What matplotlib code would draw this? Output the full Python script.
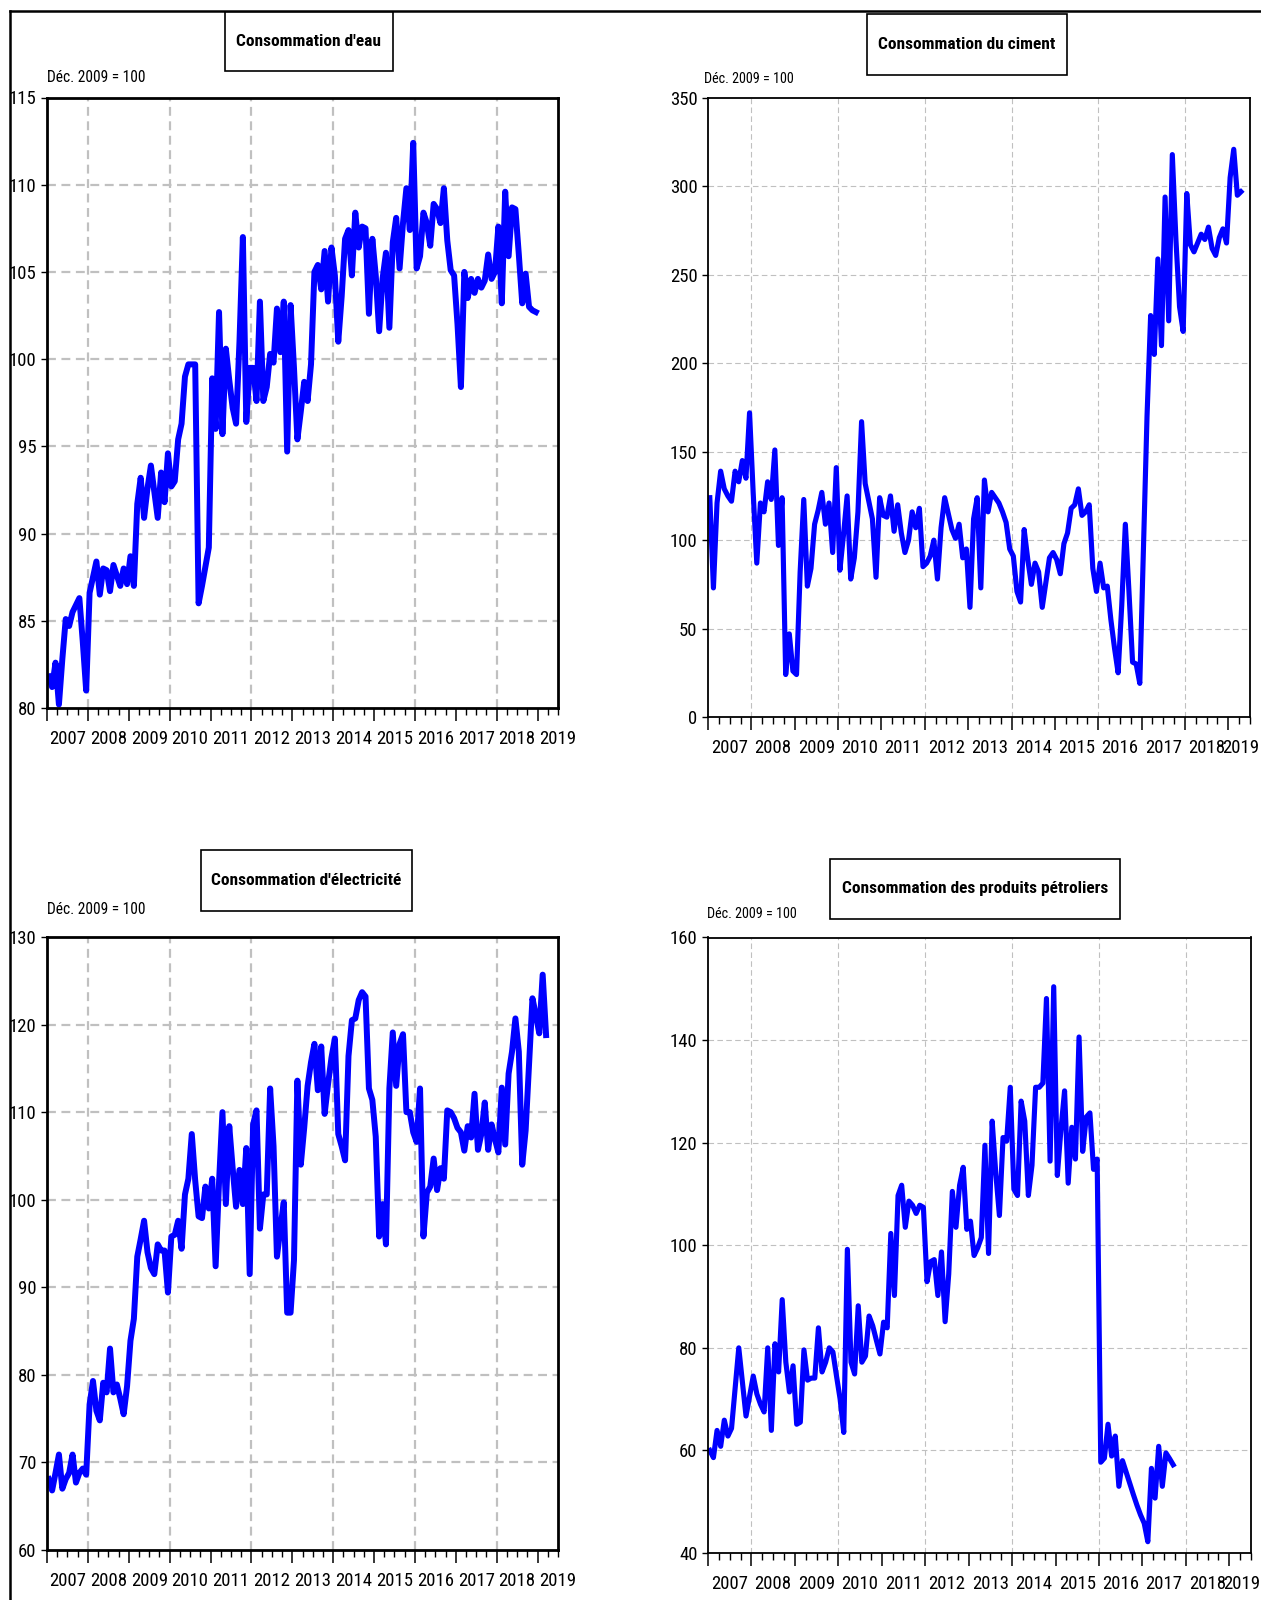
import numpy as np
import matplotlib
matplotlib.use("Agg")
import matplotlib.pyplot as plt
from matplotlib import font_manager
from matplotlib.patches import Rectangle
from matplotlib.lines import Line2D

W, H = 1261, 1600

# ── Monthly indices, Déc. 2009 = 100 (first obs = Jan 2007) ─────────────────
eau = [
    81.8, 81.2, 82.6, 80.2, 82.8, 85.1, 84.7, 85.5, 85.9, 86.3, 83.8, 81.0,
    86.6, 87.5, 88.4, 86.5, 88.0, 87.9, 86.7, 88.2, 87.6, 87.0, 88.0, 87.1,
    88.7, 87.0, 91.7, 93.2, 90.9, 92.6, 93.9, 92.4, 90.9, 93.5, 91.8, 94.6,
    92.7, 93.0, 95.4, 96.3, 99.0, 99.7, 99.7, 99.7, 86.0, 87.0, 88.1, 89.2,
    98.9, 96.0, 102.7, 95.7, 100.6, 98.8, 97.2, 96.3, 101.0, 107.0, 96.4, 99.5,
    99.5, 97.6, 103.3, 97.6, 98.4, 100.3, 99.8, 102.9, 100.4, 103.3, 94.7, 103.1,
    99.5, 95.4, 97.0, 98.7, 97.6, 99.7, 105.0, 105.4, 104.0, 106.2, 103.3, 106.4,
    104.8, 101.0, 103.6, 106.9, 107.4, 104.8, 108.4, 106.4, 107.6, 107.5, 102.6, 106.9,
    104.8, 101.6, 104.6, 106.1, 101.8, 106.7, 108.1, 105.2, 107.8, 109.8, 107.4, 112.4,
    105.2, 105.9, 108.4, 107.8, 106.5, 108.9, 108.6, 107.8, 109.8, 106.8, 105.1, 104.8,
    102.0, 98.4, 105.0, 103.5, 104.6, 103.8, 104.6, 104.1, 104.5, 106.0, 104.6, 105.0,
    107.6, 103.2, 109.6, 105.9, 108.7, 108.6, 106.0, 103.2, 104.9, 103.0, 102.8, 102.7,
]

ciment = [
    124, 73, 121, 139, 129, 125, 122, 139, 133, 145, 135, 172,
    127, 87, 121, 116, 133, 123, 151, 97, 124, 24, 47, 26,
    24, 82, 123, 74, 84, 109, 117, 127, 109, 121, 93, 141,
    83, 103, 125, 78, 90, 116, 167, 132, 122, 112, 79, 124,
    114, 113, 125, 105, 120, 104, 93, 100, 116, 107, 118, 85,
    87, 91, 100, 78, 107, 124, 115, 106, 101, 109, 90, 95,
    62, 112, 124, 73, 134, 116, 127, 124, 121, 116, 110, 95,
    91, 71, 65, 106, 89, 75, 87, 82, 62, 76, 90, 93,
    89, 81, 98, 104, 118, 120, 129, 114, 116, 120, 84, 71,
    87, 73, 74, 55, 39, 25, 63, 109, 71, 31, 30, 19,
    95, 170, 227, 205, 259, 210, 294, 224, 318, 270, 232, 218,
    296, 267, 263, 268, 273, 270, 277, 265, 261, 271, 276, 268,
    305, 321, 295, 297,
]

electricite = [
    68.1, 66.8, 68.8, 70.9, 67.0, 68.1, 68.8, 70.9, 67.7, 68.8, 69.3, 68.6,
    76.6, 79.3, 75.9, 74.8, 79.1, 78.0, 83.0, 78.0, 78.9, 77.3, 75.5, 78.7,
    83.9, 86.4, 93.5, 95.5, 97.6, 94.0, 92.2, 91.5, 94.9, 94.2, 94.2, 89.4,
    95.8, 96.0, 97.6, 94.4, 100.6, 102.4, 107.5, 102.2, 98.1, 97.9, 101.5, 99.0,
    102.4, 92.4, 102.0, 110.0, 99.5, 108.4, 103.6, 99.2, 103.4, 99.5, 105.9, 91.5,
    108.6, 110.2, 96.7, 100.6, 100.6, 112.7, 106.1, 93.5, 96.7, 99.7, 87.1, 87.1,
    93.1, 113.6, 104.0, 108.2, 113.0, 115.7, 117.8, 112.5, 117.5, 109.8, 113.2, 116.2,
    118.4, 107.5, 106.1, 104.5, 116.4, 120.5, 120.7, 122.8, 123.7, 123.2, 112.7, 111.4,
    107.2, 95.8, 99.5, 94.9, 112.7, 119.1, 113.0, 117.8, 118.9, 110.0, 110.0, 107.7,
    106.6, 112.7, 95.8, 100.8, 101.5, 104.7, 101.1, 103.6, 102.4, 110.2, 110.0, 109.3,
    108.2, 107.7, 105.6, 108.4, 107.1, 112.1, 105.7, 107.5, 111.1, 105.7, 108.6, 106.9,
    105.4, 112.8, 106.3, 114.4, 116.9, 120.7, 116.9, 104.0, 107.9, 115.5, 123.0, 121.1,
    119.0, 125.7, 118.8,
]

petrole = [
    60.0, 58.6, 63.9, 60.8, 65.9, 62.8, 64.3, 72.2, 80.0, 73.3, 66.7, 70.6,
    74.5, 71.0, 69.0, 67.5, 80.0, 63.9, 80.8, 75.3, 89.4, 77.2, 71.4, 76.5,
    65.1, 65.5, 79.6, 73.7, 74.1, 74.1, 83.9, 75.3, 77.2, 80.0, 79.2, 74.5,
    70.0, 63.5, 99.2, 77.2, 74.9, 88.2, 77.2, 78.4, 86.2, 84.3, 81.5, 78.8,
    85.0, 83.9, 102.3, 90.2, 109.7, 111.7, 103.5, 108.6, 107.8, 106.2, 107.8, 107.4,
    92.9, 96.8, 97.2, 90.2, 98.7, 85.1, 94.4, 110.5, 103.5, 111.7, 115.2, 103.1,
    104.7, 98.0, 99.5, 101.5, 119.5, 98.4, 124.2, 114.0, 105.8, 121.0, 120.3, 130.8,
    110.9, 109.7, 128.1, 124.2, 109.7, 115.6, 130.8, 130.8, 131.6, 148.1, 116.4, 150.4,
    113.6, 122.6, 130.1, 112.1, 123.0, 116.8, 140.6, 118.3, 125.0, 125.8, 114.8, 116.8,
    57.7, 58.5, 65.1, 58.9, 62.8, 53.0, 58.0, 55.8, 53.6, 51.4, 49.3, 47.4,
    45.8, 42.2, 56.5, 50.7, 60.8, 53.0, 59.5, 58.4, 57.2,
]

TITLES = ["Consommation d'eau", "Consommation du ciment",
          "Consommation d'électricité", "Consommation des produits pétroliers"]
BASE_LABEL = "Déc. 2009 = 100"
YEARS = list(range(2007, 2020))


def pick_font(names):
    for name in names:
        try:
            font_manager.findfont(name, fallback_to_default=False)
            return name
        except ValueError:
            pass
    return "DejaVu Sans"


FONT = pick_font(["Liberation Sans Narrow", "Arial Narrow", "Roboto Condensed",
                  "Liberation Sans"])
NARROW = FONT != "Liberation Sans"
plt.rcParams["font.family"] = [FONT, "DejaVu Sans"]
TICK_FS = 13.5 if NARROW else 11.5
TITLE_FS = 12.5 if NARROW else 10.5
BASE_FS = 11.2 if NARROW else 9.5


def fig_rect(l, t, r, b):
    return [l / W, 1 - b / H, (r - l) / W, (b - t) / H]


def title_box(fig, text, l, t, r, b):
    fig.add_artist(Rectangle((l / W, 1 - b / H), (r - l) / W, (b - t) / H,
                             transform=fig.transFigure, facecolor="white",
                             edgecolor="black", lw=1.2, zorder=5))
    fig.text((l + r) / 2 / W, 1 - (t + b) / 2 / H, text, ha="center", va="center",
             fontsize=TITLE_FS, fontweight="bold", zorder=6)


def panel(fig, rect, values, ylim, yticks, thick, lw_line, edge_year=False):
    ax = fig.add_axes(fig_rect(*rect))
    x = 2007 + (np.arange(len(values)) + 0.5) / 12

    grid_lw = 1.6 if thick else 0.8
    dash = (4, 2.5) if thick else (5, 3)
    for y in yticks[1:-1]:
        ax.axhline(y, color="#c0c0c0", lw=grid_lw, dashes=dash, zorder=1)
    for yr in range(2008, 2019, 2):
        ax.axvline(yr, color="#c0c0c0", lw=grid_lw, dashes=dash, zorder=1)

    ax.plot(x, values, color="#0000ff", lw=lw_line, solid_joinstyle="round",
            zorder=3)

    ax.set_xlim(2007.0, 2019.5)
    ax.set_ylim(*ylim)
    ax.set_yticks(yticks)
    ax.set_xticks(YEARS)
    ax.set_xticklabels([])
    ax.set_xticks(np.arange(2007, 2019.51, 0.25), minor=True)
    ax.tick_params(axis="y", direction="out", length=4.5, width=1.0, pad=3,
                   labelsize=TICK_FS)
    ax.tick_params(axis="x", which="major", direction="out", length=9.5, width=1.1)
    ax.tick_params(axis="x", which="minor", direction="out", length=5.0, width=1.0)
    for sp in ax.spines.values():
        sp.set_linewidth(2.0 if thick else 1.3)
        sp.set_zorder(4)

    for yr in YEARS:
        # the last label of the right-hand panels sits against the figure edge
        if edge_year and yr == YEARS[-1]:
            ax.annotate(str(yr), xy=(yr + 0.5, 0), xycoords=("data", "axes fraction"),
                        xytext=(7, -22), textcoords="offset points",
                        ha="right", va="center", fontsize=TICK_FS,
                        annotation_clip=False)
            continue
        ax.annotate(str(yr), xy=(yr + 0.5, 0), xycoords=("data", "axes fraction"),
                    xytext=(0, -22), textcoords="offset points",
                    ha="center", va="center", fontsize=TICK_FS,
                    annotation_clip=False)
    return ax


fig = plt.figure(figsize=(W / 100, H / 100), dpi=100)
fig.patch.set_facecolor("white")

# outer frame (top + left edges visible)
fig.add_artist(Line2D([10 / W, 1], [1 - 11 / H, 1 - 11 / H], color="black",
                      lw=1.8, transform=fig.transFigure))
fig.add_artist(Line2D([10 / W, 10 / W], [1 - 11 / H, 0], color="black",
                      lw=1.8, transform=fig.transFigure))

# ── Consommation d'eau ─────────────────────────────────────────────────────
panel(fig, (47, 97.5, 558, 708), eau, (80, 115), [80, 85, 90, 95, 100, 105, 110, 115],
      True, 4.3)
title_box(fig, TITLES[0], 224.5, 12, 392.5, 70.5)
fig.text(47 / W, 1 - 77 / H, BASE_LABEL, ha="left", va="center", fontsize=BASE_FS)

# ── Consommation du ciment ─────────────────────────────────────────────────
panel(fig, (708, 98, 1250, 717), ciment, (0, 350), [0, 50, 100, 150, 200, 250, 300, 350],
      False, 3.7, edge_year=True)
title_box(fig, TITLES[1], 866.5, 14, 1066.5, 75)
fig.text(704 / W, 1 - 79 / H, BASE_LABEL, ha="left", va="center", fontsize=BASE_FS - 1)

# ── Consommation d'électricité ─────────────────────────────────────────────
panel(fig, (47, 937, 558, 1550), electricite, (60, 130),
      [60, 70, 80, 90, 100, 110, 120, 130], True, 4.3)
title_box(fig, TITLES[2], 201, 850, 412, 911)
fig.text(47 / W, 1 - 910 / H, BASE_LABEL, ha="left", va="center", fontsize=BASE_FS)

# ── Consommation des produits pétroliers ───────────────────────────────────
panel(fig, (708, 937.5, 1251, 1553), petrole, (40, 160),
      [40, 60, 80, 100, 120, 140, 160], False, 3.7, edge_year=True)
title_box(fig, TITLES[3], 830, 859, 1119.5, 919)
fig.text(707 / W, 1 - 914 / H, BASE_LABEL, ha="left", va="center", fontsize=BASE_FS - 1)

fig.savefig("out.png", dpi=100)
